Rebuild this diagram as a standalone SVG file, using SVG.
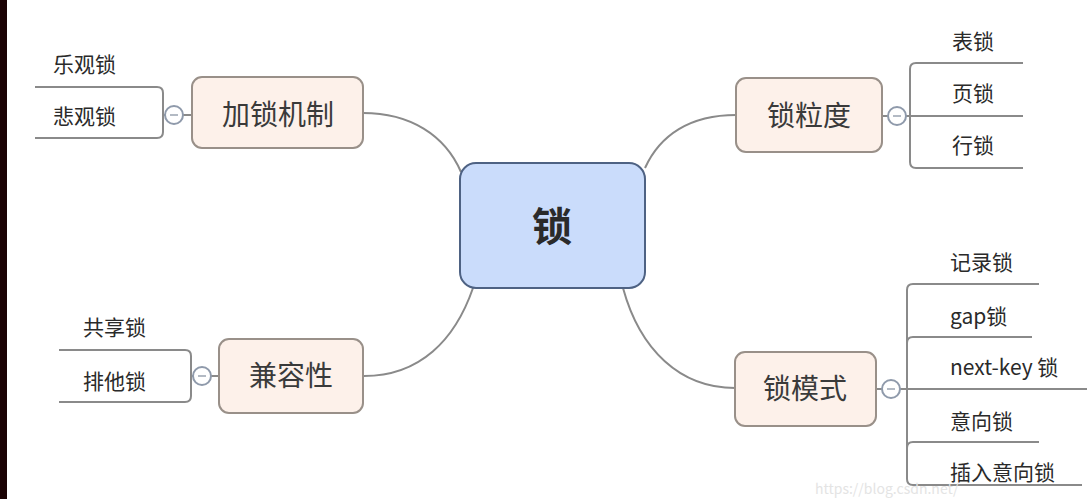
<svg xmlns="http://www.w3.org/2000/svg" width="1087" height="499" viewBox="0 0 1087 499">
<style>
text{font-family:"Noto Sans CJK SC","Noto Sans",sans-serif;fill:#2a2a2a}
.leaf{font-size:21px}
.main{font-size:28px;fill:#3a3a3a;text-anchor:middle}
.mnode{fill:#fdf1ea;stroke:#999089;stroke-width:2}
.ln{fill:none;stroke:#8a8a8a;stroke-width:2}
.tog{fill:#fff;stroke:#8f9aab;stroke-width:2}
.dash{stroke:#9aa3b0;stroke-width:1.5}
</style>
<rect x="0" y="0" width="1087" height="499" fill="#fff"/>
<rect x="0" y="0" width="7" height="499" fill="#1b0304"/>
<g id="connectors">
<path class="ln" d="M363,113 C410,113 445,135 461,172"/>
<path class="ln" d="M736,115 C690,115 660,135 645,168"/>
<path class="ln" d="M364,376 C420,376 455,340 473,288"/>
<path class="ln" d="M735,388 C680,388 640,350 623,288"/>
<path class="ln" d="M35,87 H157 Q163,87 163,93 V132 Q163,138 157,138 H35"/>
<path class="ln" d="M163,115 H165 M183,115 H192"/>
<path class="ln" d="M59,350 H185 Q191,350 191,356 V396 Q191,402 185,402 H59"/>
<path class="ln" d="M191,376 H193 M211,376 H219"/>
<path class="ln" d="M1023,63 H916 Q910,63 910,69 V162 Q910,168 916,168 H1023"/>
<path class="ln" d="M882,116 H888 M906,116 H1023"/>
<path class="ln" d="M1039,284 H913 Q907,284 907,290 V479 Q907,485 913,485 H1082"/>
<path class="ln" d="M907,343 Q907,337 913,337 H1032"/>
<path class="ln" d="M907,448 Q907,442 913,442 H1039"/>
<path class="ln" d="M876,389 H882 M900,389 H1087"/>
</g>
<g id="center">
<rect x="460" y="163" width="185" height="125" rx="16" fill="#cadcfb" stroke="#4e6283" stroke-width="2"/>
<text x="552" y="241" font-size="40" font-weight="bold" text-anchor="middle" fill="#444">锁</text>
</g>
<g id="node-jiasuo">
<rect class="mnode" x="192" y="77" width="171" height="71" rx="10"/>
<text class="main" x="278" y="125">加锁机制</text>
<circle class="tog" cx="174" cy="115" r="9"/><line class="dash" x1="170" y1="115" x2="178" y2="115"/>
<text class="leaf" x="53" y="72">乐观锁</text>
<text class="leaf" x="53" y="124">悲观锁</text>
</g>
<g id="node-jianrong">
<rect class="mnode" x="219" y="339" width="144" height="74" rx="10"/>
<text class="main" x="291" y="386">兼容性</text>
<circle class="tog" cx="202" cy="376" r="9"/><line class="dash" x1="198" y1="376" x2="206" y2="376"/>
<text class="leaf" x="83" y="335">共享锁</text>
<text class="leaf" x="83" y="389">排他锁</text>
</g>
<g id="node-lidu">
<rect class="mnode" x="736" y="78" width="146" height="74" rx="10"/>
<text class="main" x="809" y="126">锁粒度</text>
<circle class="tog" cx="897" cy="116" r="9"/><line class="dash" x1="893" y1="116" x2="901" y2="116"/>
<text class="leaf" x="952" y="49">表锁</text>
<text class="leaf" x="952" y="101">页锁</text>
<text class="leaf" x="952" y="153">行锁</text>
</g>
<g id="node-moshi">
<rect class="mnode" x="735" y="352" width="141" height="74" rx="10"/>
<text class="main" x="805" y="399">锁模式</text>
<circle class="tog" cx="891" cy="389" r="9"/><line class="dash" x1="887" y1="389" x2="895" y2="389"/>
<text class="leaf" x="950" y="270">记录锁</text>
<text class="leaf" x="950" y="324">gap锁</text>
<text class="leaf" x="950" y="375">next-key 锁</text>
<text class="leaf" x="950" y="429">意向锁</text>
<text class="leaf" x="950" y="480">插入意向锁</text>
</g>
<text x="815" y="494" font-size="14" style="fill:#e4e4e4">https://blog.csdn.net/</text>
</svg>
